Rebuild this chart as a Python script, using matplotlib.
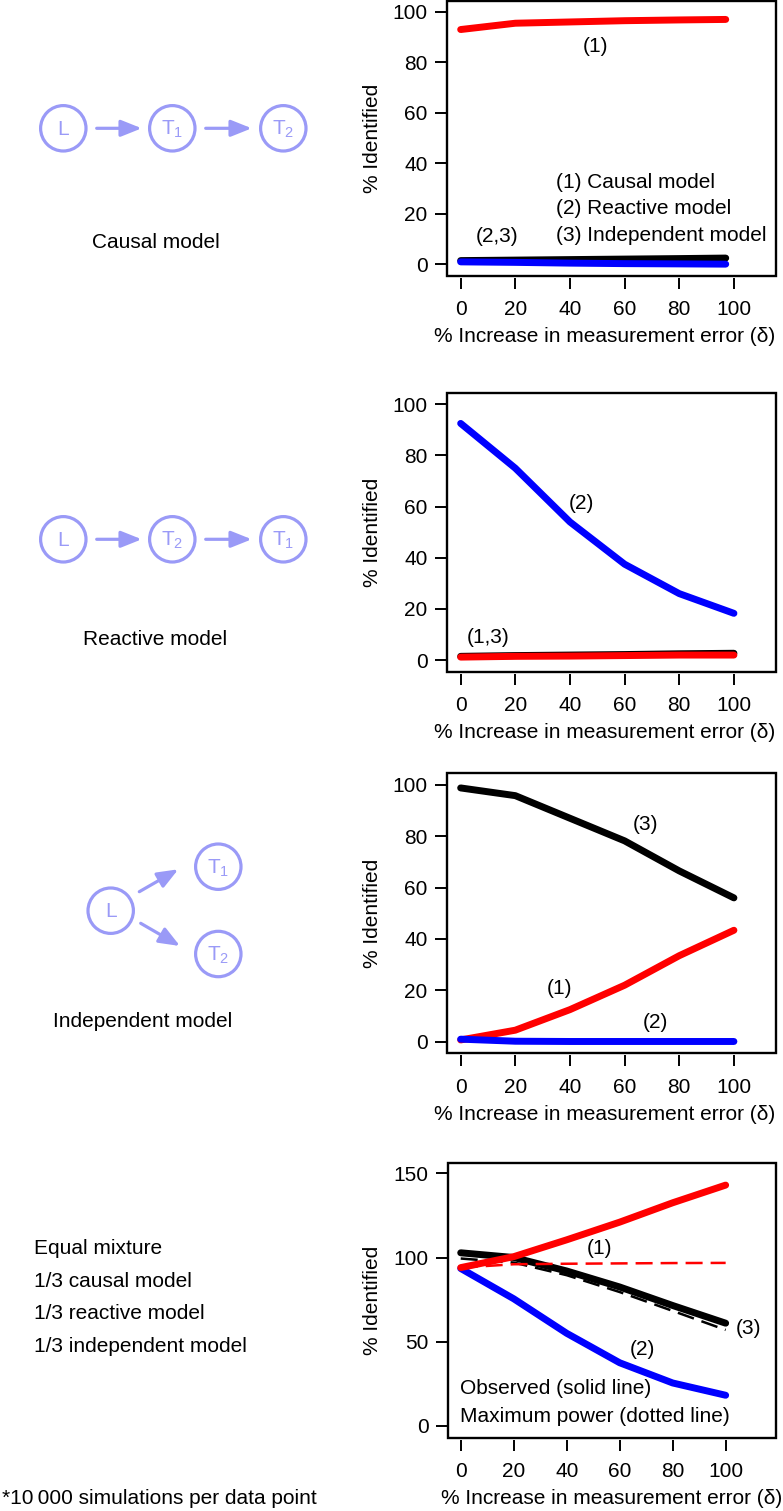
import matplotlib.pyplot as plt
from matplotlib.patches import Circle, Rectangle, FancyArrowPatch

plt.rcParams['font.family'] = ['Liberation Sans', 'DejaVu Sans']
plt.rcParams['mathtext.fontset'] = 'custom'
plt.rcParams['mathtext.rm'] = 'Liberation Sans'

W, H = 783, 1511

# % increase in measurement error (delta)
delta = [0, 20, 40, 60, 80, 100]
delta_causal = [0, 20, 40, 60, 80, 97]

# true model: causal
causal_1 = [93, 95.5, 96, 96.5, 96.8, 97]
causal_2 = [1.0, 0.8, 0.5, 0.3, 0.2, 0.1]
causal_3 = [1.5, 1.7, 1.9, 2.1, 2.3, 2.5]

# true model: reactive
reactive_1 = [1.2, 1.5, 1.6, 1.8, 2.0, 2.0]
reactive_2 = [92.5, 75, 54, 37.5, 26, 18.3]
reactive_3 = [1.5, 1.8, 2.0, 2.2, 2.5, 2.7]

# true model: independent
indep_1 = [0.7, 4.5, 12.5, 22, 33.5, 43.4]
indep_2 = [1.0, 0.2, 0.1, 0.1, 0.1, 0.1]
indep_3 = [98.8, 95.8, 87, 78.2, 66.5, 56]

# equal mixture, observed and maximum power
mix_1 = [94, 100.5, 110.5, 121, 132.5, 143]
mix_2 = [93.5, 75.5, 55, 37.5, 25.5, 18.2]
mix_3 = [102.8, 100, 92, 82.5, 71.5, 61]
mix_1_max = [94, 96, 96.3, 96.5, 96.7, 96.8]
mix_3_max = [99.4, 97, 89.5, 79.5, 68.3, 57]

xlab = '% Increase in measurement error (\u03b4)'
ylab = '% Identified'
RED, BLUE, BLACK = '#ff0000', '#0000ff', '#000000'
NODE = '#9a9af7'
FS = 15

fig = plt.figure(figsize=(W / 100, H / 100), dpi=100)

# left side: model diagrams (pixel coordinates)
bg = fig.add_axes([0, 0, 1, 1])
bg.set_xlim(0, W)
bg.set_ylim(H, 0)
bg.axis('off')


def node(x, y, label):
    bg.add_patch(Circle((x, y), 22.7, fill=False, lw=2.3, ec=NODE))
    bg.text(x, y + 1, label, ha='center', va='center', fontsize=15, color=NODE)


def arrow(x1, y1, x2, y2):
    bg.add_patch(FancyArrowPatch((x1, y1), (x2, y2),
                                 arrowstyle='-|>,head_length=1.25,head_width=0.5',
                                 mutation_scale=10, lw=2.3, color=NODE,
                                 shrinkA=0, shrinkB=0))


T1 = r'T$_{\mathregular{1}}$'
T2 = r'T$_{\mathregular{2}}$'

node(63.3, 128.3, 'L')
node(172.3, 128.3, T1)
node(283.3, 128.3, T2)
arrow(96.7, 128.3, 141.7, 128.3)
arrow(205.7, 128.3, 251.7, 128.3)
bg.text(156, 242.7, 'Causal model', ha='center', va='center', fontsize=15)

node(63.3, 539.3, 'L')
node(172.3, 539.3, T2)
node(283.3, 539.3, T1)
arrow(96.7, 539.3, 141.7, 539.3)
arrow(205.7, 539.3, 251.7, 539.3)
bg.text(155, 639.3, 'Reactive model', ha='center', va='center', fontsize=15)

node(110.7, 910.7, 'L')
node(218.3, 866.7, T1)
node(218.3, 954, T2)
arrow(139.3, 891.7, 178.3, 869.3)
arrow(140.7, 923.3, 180, 946)
bg.text(143, 1021.7, 'Independent model', ha='center', va='center', fontsize=15)

mix_lines = ['Equal mixture', '1/3 causal model', '1/3 reactive model', '1/3 independent model']
for i, s in enumerate(mix_lines):
    bg.text(34.3, 1248.3 + 32.8 * i, s, ha='left', va='center', fontsize=15)
bg.text(1.7, 1498.3, '*10\u2009000 simulations per data point', ha='left', va='center', fontsize=15)


def panel(box, xlim, ylim, yticks, xlabx=0.48):
    l, t, r, b = box
    ax = fig.add_axes([l / W, 1 - b / H, (r - l) / W, (b - t) / H])
    ax.set_xlim(*xlim)
    ax.set_ylim(*ylim)
    ax.set_xticks(delta)
    ax.set_yticks(yticks)
    for s in ax.spines.values():
        s.set_visible(False)
    ax.spines['bottom'].set_position(('outward', 1.5))
    ax.add_patch(Rectangle((0, 0), 1, 1, transform=ax.transAxes, fill=False,
                           lw=1.7, ec='black', clip_on=False, zorder=5))
    ax.tick_params(axis='y', direction='out', length=8.6, width=1.4, pad=5.5, labelsize=FS)
    ax.tick_params(axis='x', direction='out', length=8, width=1.4, pad=8, labelsize=FS)
    ax.set_xlabel(xlab, fontsize=FS)
    ax.set_ylabel(ylab, fontsize=FS)
    ax.xaxis.label.set_va('center')
    ax.xaxis.set_label_coords(xlabx, -61 / (b - t))
    ax.yaxis.label.set_va('center')
    ax.yaxis.set_label_coords((372 - l) / (r - l), 0.5)
    return ax


LW = 5
kw = dict(lw=LW, solid_capstyle='round', solid_joinstyle='round')

# panel 1: causal
ax = panel((447, 1, 776, 275.5), (-5, 115.4), (-4.4, 104.3), [0, 20, 40, 60, 80, 100])
ax.plot(delta_causal, causal_1, color=RED, **kw)
ax.plot(delta_causal, causal_3, color=BLACK, **kw)
ax.plot(delta_causal, causal_2, color=BLUE, **kw)
ax.text(49.5, 86.2, '(1)', ha='center', va='center', fontsize=FS)
ax.text(13.5, 11, '(2,3)', ha='center', va='center', fontsize=FS)
for i, s in enumerate(['(1) Causal model', '(2) Reactive model', '(3) Independent model']):
    ax.text(35, 32.5 - 10.5 * i, s, ha='left', va='center', fontsize=FS)

# panel 2: reactive
ax = panel((447, 392.7, 776, 671.7), (-5, 115.4), (-4.5, 104.5), [0, 20, 40, 60, 80, 100])
ax.plot(delta, reactive_2, color=BLUE, **kw)
ax.plot(delta, reactive_3, color=BLACK, **kw)
ax.plot(delta, reactive_1, color=RED, **kw)
ax.text(44.3, 61.3, '(2)', ha='center', va='center', fontsize=FS)
ax.text(10.1, 8.9, '(1,3)', ha='center', va='center', fontsize=FS)

# panel 3: independent
ax = panel((447, 773.3, 776, 1053.3), (-5, 115.4), (-4.5, 104.5), [0, 20, 40, 60, 80, 100])
ax.plot(delta, indep_3, color=BLACK, **kw)
ax.plot(delta, indep_1, color=RED, **kw)
ax.plot(delta, indep_2, color=BLUE, **kw)
ax.text(67.8, 84.4, '(3)', ha='center', va='center', fontsize=FS)
ax.text(36.3, 20.9, '(1)', ha='center', va='center', fontsize=FS)
ax.text(71.1, 7.4, '(2)', ha='center', va='center', fontsize=FS)

# panel 4: equal mixture
ax = panel((448, 1162.7, 776, 1437.7), (-4.8, 119), (-7, 156.3), [0, 50, 100, 150], xlabx=0.5)
dkw = dict(lw=1.8, dashes=(6.8, 3.2))
ax.plot(delta, mix_3_max, color=BLACK, **dkw)
ax.plot(delta, mix_2, color=BLUE, **kw)
ax.plot(delta, mix_3, color=BLACK, **kw)
ax.plot(delta, mix_1, color=RED, **kw)
ax.plot(delta, mix_1_max, color=RED, **dkw)
ax.text(52.3, 105.4, '(1)', ha='center', va='center', fontsize=FS)
ax.text(108.5, 57.9, '(3)', ha='center', va='center', fontsize=FS)
ax.text(68.7, 45.4, '(2)', ha='center', va='center', fontsize=FS)
ax.text(-0.3, 22.2, 'Observed (solid line)', ha='left', va='center', fontsize=FS)
ax.text(-0.3, 5.8, 'Maximum power (dotted line)', ha='left', va='center', fontsize=FS)

fig.savefig('out.png', dpi=100)
